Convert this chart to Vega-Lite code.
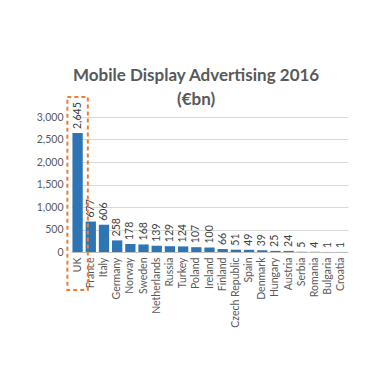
{
  "$schema": "https://vega.github.io/schema/vega-lite/v6.json",
  "width": 277,
  "height": 135,
  "autosize": "none",
  "padding": {"left": 71, "top": 117, "right": 42, "bottom": 138},
  "background": "white",
  "title": {
    "text": ["Mobile Display Advertising 2016", "(€bn)"],
    "font": "Lato",
    "fontSize": 17,
    "fontWeight": "bold",
    "color": "#595959",
    "lineHeight": 24,
    "anchor": "middle",
    "frame": "bounds",
    "offset": -13,
    "dx": 4
  },
  "datasets": {
    "main": [
      {"country": "UK", "value": 2645},
      {"country": "France", "value": 677},
      {"country": "Italy", "value": 606},
      {"country": "Germany", "value": 258},
      {"country": "Norway", "value": 178},
      {"country": "Sweden", "value": 168},
      {"country": "Netherlands", "value": 139},
      {"country": "Russia", "value": 129},
      {"country": "Turkey", "value": 124},
      {"country": "Poland", "value": 107},
      {"country": "Ireland", "value": 100},
      {"country": "Finland", "value": 66},
      {"country": "Czech Republic", "value": 51},
      {"country": "Spain", "value": 49},
      {"country": "Denmark", "value": 39},
      {"country": "Hungary", "value": 25},
      {"country": "Austria", "value": 24},
      {"country": "Serbia", "value": 5},
      {"country": "Romania", "value": 4},
      {"country": "Bulgaria", "value": 1},
      {"country": "Croatia", "value": 1}
    ],
    "box": [
      {"country": "UK", "top": 3444, "bottom": -844}
    ]
  },
  "config": {
    "view": {"stroke": null},
    "font": "Lato",
    "axisX": {
      "title": null, "labelAngle": -90, "labelFontSize": 10.5,
      "labelColor": "#595959", "labelFont": "Lato",
      "ticks": false, "domainColor": "#bfbfbf", "labelPadding": 5
    },
    "axisY": {
      "title": null, "domain": false, "ticks": false,
      "gridColor": "#d9d9d9", "labelFontSize": 10.5, "labelFont": "Lato",
      "labelColor": "#595959", "labelPadding": 8
    }
  },
  "encoding": {
    "x": {
      "field": "country", "type": "nominal", "sort": null,
      "scale": {"paddingInner": 0, "paddingOuter": 0},
      "axis": {"title": null}
    }
  },
  "layer": [
    {
      "data": {"name": "main"},
      "mark": {"type": "bar", "color": "#2E75B6", "width": {"band": 0.78}},
      "encoding": {
        "y": {
          "field": "value", "type": "quantitative",
          "scale": {"domain": [0, 3000], "nice": false},
          "axis": {"title": null, "values": [0, 500, 1000, 1500, 2000, 2500, 3000], "format": ",.0f"}
        }
      }
    },
    {
      "data": {"name": "main"},
      "mark": {"type": "text", "angle": -90, "align": "left", "baseline": "middle", "dx": 4, "fontSize": 10.5, "color": "#404040", "font": "Lato"},
      "encoding": {
        "y": {"field": "value", "type": "quantitative",
          "axis": {"title": null, "values": [0, 500, 1000, 1500, 2000, 2500, 3000], "format": ",.0f"}},
        "text": {"field": "value", "type": "quantitative", "format": ",.0f"}
      }
    },
    {
      "data": {"name": "box"},
      "mark": {"type": "bar", "filled": false, "fill": null, "stroke": "#ED7D31", "strokeWidth": 2, "strokeDash": [4, 3], "width": {"band": 1.55}, "clip": false},
      "encoding": {
        "y": {"field": "top", "type": "quantitative",
          "axis": {"title": null, "values": [0, 500, 1000, 1500, 2000, 2500, 3000], "format": ",.0f"}},
        "y2": {"field": "bottom"}
      }
    }
  ]
}
